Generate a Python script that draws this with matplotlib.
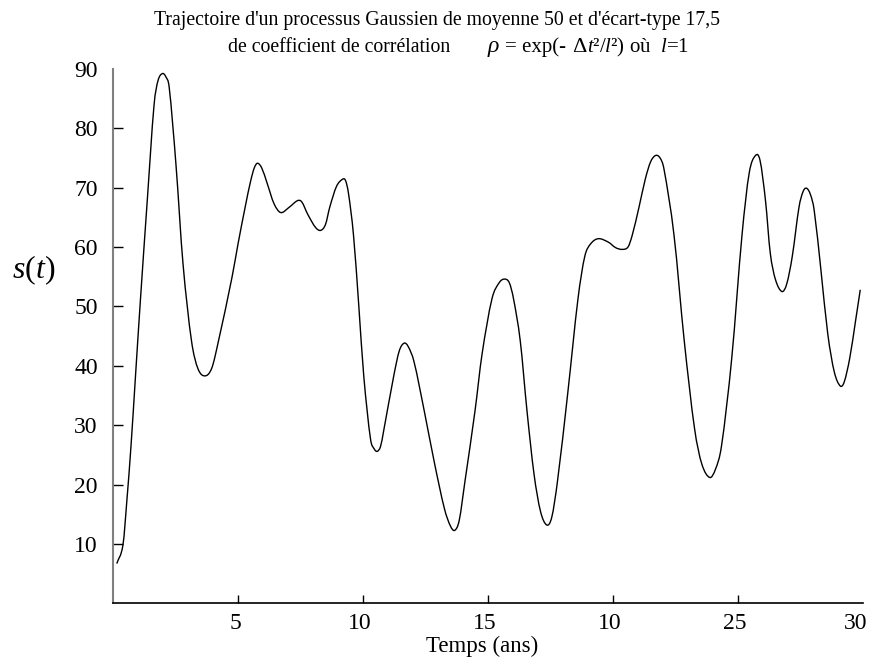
import matplotlib
matplotlib.use("Agg")
import matplotlib.pyplot as plt
import matplotlib.transforms as mtransforms
from matplotlib.path import Path
from matplotlib.patches import PathPatch

plt.rcParams['font.family'] = ['Liberation Serif', 'DejaVu Serif']
plt.rcParams['mathtext.fontset'] = 'custom'
plt.rcParams['mathtext.rm'] = 'Liberation Serif'
plt.rcParams['mathtext.it'] = 'Liberation Serif:italic'

# Data
t_years = [0.15, 0.40, 0.56, 0.72, 0.90, 1.10, 1.37, 1.64, 1.80, 1.98, 2.12, 2.25, 2.52, 2.80,
           3.14, 3.40, 3.68, 3.95, 4.22, 4.76, 5.00, 5.30, 5.50, 5.65, 5.78, 5.95, 6.16, 6.44,
           6.71, 7.05, 7.38, 7.55, 7.79, 8.10, 8.31, 8.50, 8.67, 8.94, 9.18, 9.30, 9.42, 9.62,
           9.83, 10.03, 10.30, 10.45, 10.57, 10.70, 10.82, 11.23, 11.45, 11.64, 11.80, 12.04,
           12.45, 12.86, 13.26, 13.50, 13.67, 13.85, 14.08, 14.48, 14.76, 15.16, 15.45, 15.66,
           15.85, 16.02, 16.29, 16.56, 16.84, 17.10, 17.35, 17.55, 17.78, 18.19, 18.60, 18.87,
           19.10, 19.41, 19.82, 20.10, 20.36, 20.60, 20.77, 21.04, 21.29, 21.50, 21.70, 21.88,
           22.04, 22.44, 22.85, 23.26, 23.55, 23.87, 24.10, 24.34, 24.75, 25.16, 25.45, 25.70,
           25.88, 26.10, 26.29, 26.50, 26.76, 26.95, 27.17, 27.44, 27.60, 27.74, 27.90, 28.05,
           28.32, 28.59, 28.85, 29.09, 29.25, 29.47, 29.70, 29.89]
s_values = [6.7, 9.9, 17.6, 26.5, 38.3, 51.3, 67.8, 83.8, 88.0, 89.2, 88.6, 86.8, 73.8, 57.2,
            44.2, 39.5, 38.3, 39.6, 44.2, 54.9, 60.5, 67.0, 71.0, 73.3, 74.1, 73.3, 70.8, 67.3,
            65.8, 66.7, 67.8, 67.6, 65.5, 63.3, 62.8, 63.8, 66.7, 70.2, 71.4, 71.2, 69.0, 62.0,
            50.2, 38.3, 27.7, 26.0, 25.6, 26.4, 28.9, 38.3, 42.5, 43.8, 43.3, 40.7,
            32.4, 23.6, 15.9, 13.0, 12.3, 14.0, 20.6, 32.4, 41.9, 51.3, 54.0, 54.6,
            54.0, 51.3, 44.2, 32.4, 21.8, 15.5, 13.2, 14.5, 20.6, 35.4, 51.3, 58.4,
            60.5, 61.4, 60.8, 59.9, 59.6, 60.0, 62.0, 66.7, 71.4, 74.3, 75.4, 75.0,
            73.1, 62.0, 44.2, 29.5, 23.5, 21.2, 22.6, 26.5, 41.3, 62.0, 72.5, 75.4,
            74.6, 67.8, 59.0, 54.5, 52.5, 53.8, 58.4, 66.7, 69.3, 69.9, 68.8, 66.1,
            56.0, 45.4, 39.0, 36.6, 37.3, 41.3, 47.5, 52.8]

x_ticks = [5, 10, 15, 20, 25, 30]
x_tick_labels = ['5', '10', '15', '10', '25', '30']
y_ticks = [10, 20, 30, 40, 50, 60, 70, 80, 90]

fig = plt.figure(figsize=(8.71, 6.62), dpi=100)
ax = fig.add_axes([113/871, 1 - 603.4/662, 750/871, 534.6/662])

# smooth curve through the read points (Hermite -> cubic Bezier path)
n = len(t_years)
slopes = []
for i in range(n):
    if i == 0:
        m = (s_values[1] - s_values[0]) / (t_years[1] - t_years[0])
    elif i == n - 1:
        m = (s_values[-1] - s_values[-2]) / (t_years[-1] - t_years[-2])
    else:
        m = (s_values[i + 1] - s_values[i - 1]) / (t_years[i + 1] - t_years[i - 1])
    slopes.append(m)
verts = [(t_years[0], s_values[0])]
codes = [Path.MOVETO]
for i in range(n - 1):
    h = t_years[i + 1] - t_years[i]
    verts += [(t_years[i] + h / 3, s_values[i] + slopes[i] * h / 3),
              (t_years[i + 1] - h / 3, s_values[i + 1] - slopes[i + 1] * h / 3),
              (t_years[i + 1], s_values[i + 1])]
    codes += [Path.CURVE4] * 3
ax.add_patch(PathPatch(Path(verts, codes), fill=False, edgecolor='black', lw=1.0))

ax.set_xlim(0, 30)
ax.set_ylim(0, 90)
ax.set_xticks(x_ticks)
ax.set_xticklabels(x_tick_labels)
ax.set_yticks(y_ticks)
ax.tick_params(axis='both', direction='in', labelsize=17, width=1.0, color='black')
ax.tick_params(axis='y', length=7.5, pad=11)
ax.tick_params(axis='x', length=6, pad=7)
ax.yaxis.get_major_ticks()[-1].tick1line.set_visible(False)
ax.xaxis.get_major_ticks()[-1].tick1line.set_visible(False)

for i, lab in enumerate(ax.get_xticklabels()):
    dx = -3 if i < len(x_ticks) - 1 else -7
    lab.set_transform(lab.get_transform() +
                      mtransforms.ScaledTranslation(dx / 100, 0, fig.dpi_scale_trans))

for side in ['top', 'right']:
    ax.spines[side].set_visible(False)
ax.spines['left'].set_color('#808080')
ax.spines['left'].set_linewidth(1.5)
ax.spines['bottom'].set_color('black')
ax.spines['bottom'].set_linewidth(1.2)

fig.text(482/871, 1 - 646/662, 'Temps (ans)', fontsize=16.5, ha='center', va='center')
fig.text(34/871, 1 - 270/662, r'$s(t)$', fontsize=23, ha='center', va='center')

fig.text(437/871, 1 - 21/662,
         "Trajectoire d'un processus Gaussien de moyenne 50 et d'écart-type 17,5",
         fontsize=14.25, ha='center', va='center')
y2 = 1 - 52/662
fig.text(228/871, y2, "de coefficient de corrélation", fontsize=14.25, ha='left', va='baseline')
fig.text(487/871, y2, r"$\rho$", fontsize=17, ha='left', va='baseline')
fig.text(505/871, y2, "= exp(-", fontsize=15, ha='left', va='baseline')
fig.text(572/871, y2, "\u0394", fontsize=16, ha='left', va='baseline')
fig.text(587/871, y2, "$t$²/$l$²) où  $l$=1", fontsize=15, ha='left', va='baseline')

fig.savefig('out.png', dpi=100)
